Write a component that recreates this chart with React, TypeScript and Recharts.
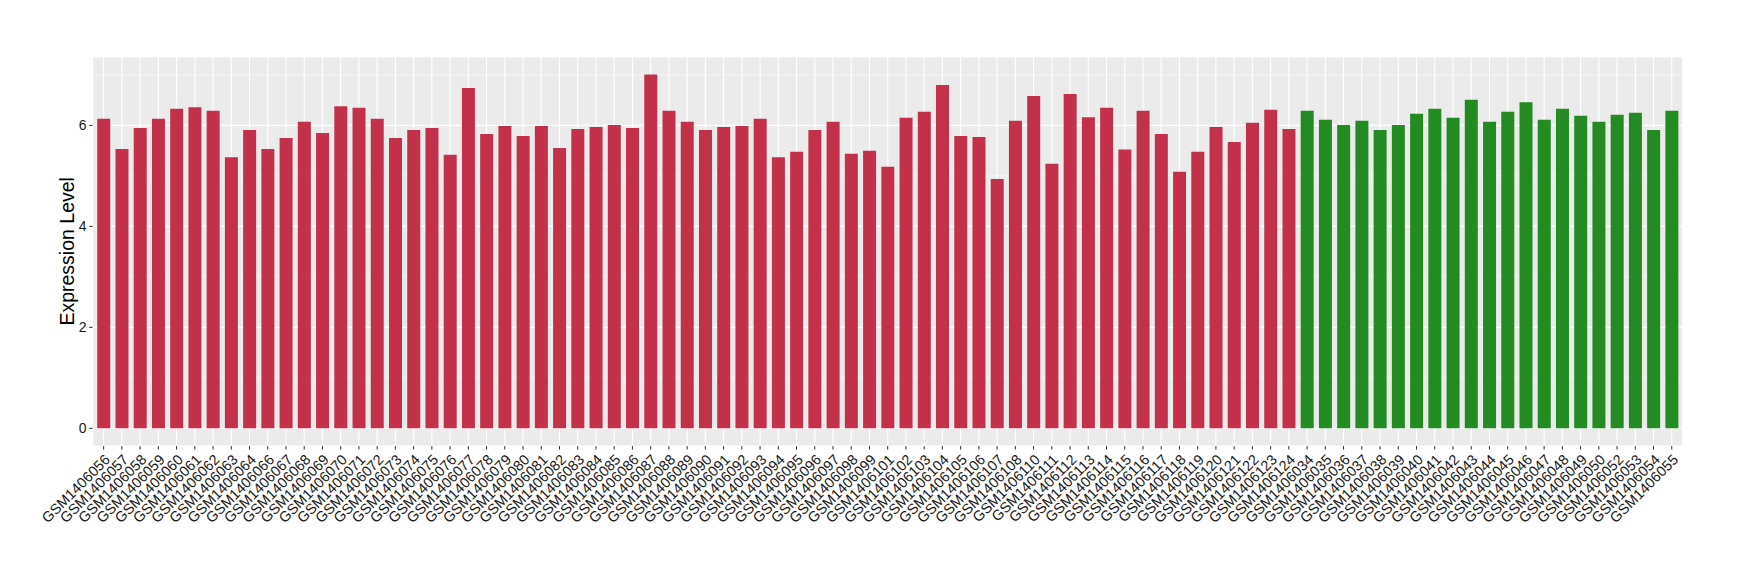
import React from 'react';
import { BarChart, Bar, XAxis, YAxis, CartesianGrid, Cell } from 'recharts';

// sample ids and expression values
const redSamples = [
  'GSM1406056', 'GSM1406057', 'GSM1406058', 'GSM1406059', 'GSM1406060', 'GSM1406061',
  'GSM1406062', 'GSM1406063', 'GSM1406064', 'GSM1406066', 'GSM1406067', 'GSM1406068',
  'GSM1406069', 'GSM1406070', 'GSM1406071', 'GSM1406072', 'GSM1406073', 'GSM1406074',
  'GSM1406075', 'GSM1406076', 'GSM1406077', 'GSM1406078', 'GSM1406079', 'GSM1406080',
  'GSM1406081', 'GSM1406082', 'GSM1406083', 'GSM1406084', 'GSM1406085', 'GSM1406086',
  'GSM1406087', 'GSM1406088', 'GSM1406089', 'GSM1406090', 'GSM1406091', 'GSM1406092',
  'GSM1406093', 'GSM1406094', 'GSM1406095', 'GSM1406096', 'GSM1406097', 'GSM1406098',
  'GSM1406099', 'GSM1406101', 'GSM1406102', 'GSM1406103', 'GSM1406104', 'GSM1406105',
  'GSM1406106', 'GSM1406107', 'GSM1406108', 'GSM1406110', 'GSM1406111', 'GSM1406112',
  'GSM1406113', 'GSM1406114', 'GSM1406115', 'GSM1406116', 'GSM1406117', 'GSM1406118',
  'GSM1406119', 'GSM1406120', 'GSM1406121', 'GSM1406122', 'GSM1406123', 'GSM1406124',
];
const redValues = [
  6.13, 5.53, 5.95, 6.13, 6.33, 6.36,
  6.29, 5.37, 5.91, 5.53, 5.75, 6.07,
  5.85, 6.38, 6.35, 6.13, 5.75, 5.91,
  5.95, 5.42, 6.74, 5.83, 5.99, 5.79,
  5.99, 5.55, 5.93, 5.97, 6.01, 5.95,
  7.01, 6.29, 6.07, 5.91, 5.97, 5.99,
  6.13, 5.37, 5.48, 5.91, 6.07, 5.44,
  5.5, 5.18, 6.15, 6.27, 6.8, 5.79,
  5.77, 4.94, 6.09, 6.58, 5.24, 6.62,
  6.16, 6.35, 5.52, 6.29, 5.83, 5.08,
  5.48, 5.97, 5.67, 6.05, 6.31, 5.93,
];
const greenSamples = [
  'GSM1406034', 'GSM1406035', 'GSM1406036', 'GSM1406037', 'GSM1406038', 'GSM1406039',
  'GSM1406040', 'GSM1406041', 'GSM1406042', 'GSM1406043', 'GSM1406044', 'GSM1406045',
  'GSM1406046', 'GSM1406047', 'GSM1406048', 'GSM1406049', 'GSM1406050', 'GSM1406052',
  'GSM1406053', 'GSM1406054', 'GSM1406055',
];
const greenValues = [
  6.29, 6.11, 6.01, 6.09, 5.91, 6.01,
  6.23, 6.33, 6.15, 6.51, 6.07, 6.27,
  6.46, 6.11, 6.33, 6.19, 6.07, 6.21,
  6.25, 5.91, 6.29,
];
const yTicks = [0, 2, 4, 6];
const yMinor = [1, 3, 5, 7];

const RED = '#C3304A';
const GREEN = '#228B22';
const FONT = '"Liberation Sans", Arial, Helvetica, sans-serif';

const data = [
  ...redSamples.map((sample, i) => ({ sample, value: redValues[i], fill: RED })),
  ...greenSamples.map((sample, i) => ({ sample, value: greenValues[i], fill: GREEN })),
];

const maxVal = Math.max(...data.map((d) => d.value));

function SampleTick({ x, y, payload }: any) {
  return (
    <text
      x={x}
      y={y}
      dy="0.72em"
      textAnchor="end"
      transform={`rotate(-45, ${x}, ${y})`}
      fontSize={14.5}
      fontFamily={FONT}
      fill="#1a1a1a"
    >
      {payload.value}
    </text>
  );
}

export default function App() {
  return (
    <div style={{ position: 'absolute', left: 0, top: 0, background: '#fff' }}>
      <BarChart
        width={1740}
        height={580}
        data={data}
        margin={{ top: 56.7, right: 57.3, bottom: 0, left: 0 }}
        barCategoryGap="15%"
      >
        {/* panel background + minor grid */}
        <CartesianGrid
          fill="#EBEBEB"
          stroke="#FFFFFF"
          strokeWidth={0.55}
          vertical={false}
          horizontalValues={yMinor}
        />
        <CartesianGrid stroke="#FFFFFF" strokeWidth={1.1} />
        <XAxis
          dataKey="sample"
          interval={0}
          height={134}
          padding={{ left: 1.82, right: 1.82 }}
          axisLine={false}
          tickLine={{ stroke: '#333333' }}
          tickSize={3.6}
          tickMargin={3.5}
          tick={<SampleTick />}
        />
        <YAxis
          width={92.7}
          domain={[-0.05 * maxVal, 1.05 * maxVal]}
          ticks={yTicks}
          allowDataOverflow
          axisLine={false}
          tickLine={{ stroke: '#333333' }}
          tickSize={3.6}
          tickMargin={2.5}
          tick={{ fontSize: 14, fontFamily: FONT, fill: '#1a1a1a' }}
          label={{
            value: 'Expression Level',
            angle: -90,
            position: 'center',
            dx: 20.5,
            style: { fontSize: 19.5, fontFamily: FONT, fill: '#000', textAnchor: 'middle' },
          }}
        />
        <Bar dataKey="value" isAnimationActive={false}>
          {data.map((d) => (
            <Cell key={d.sample} fill={d.fill} />
          ))}
        </Bar>
      </BarChart>
    </div>
  );
}
